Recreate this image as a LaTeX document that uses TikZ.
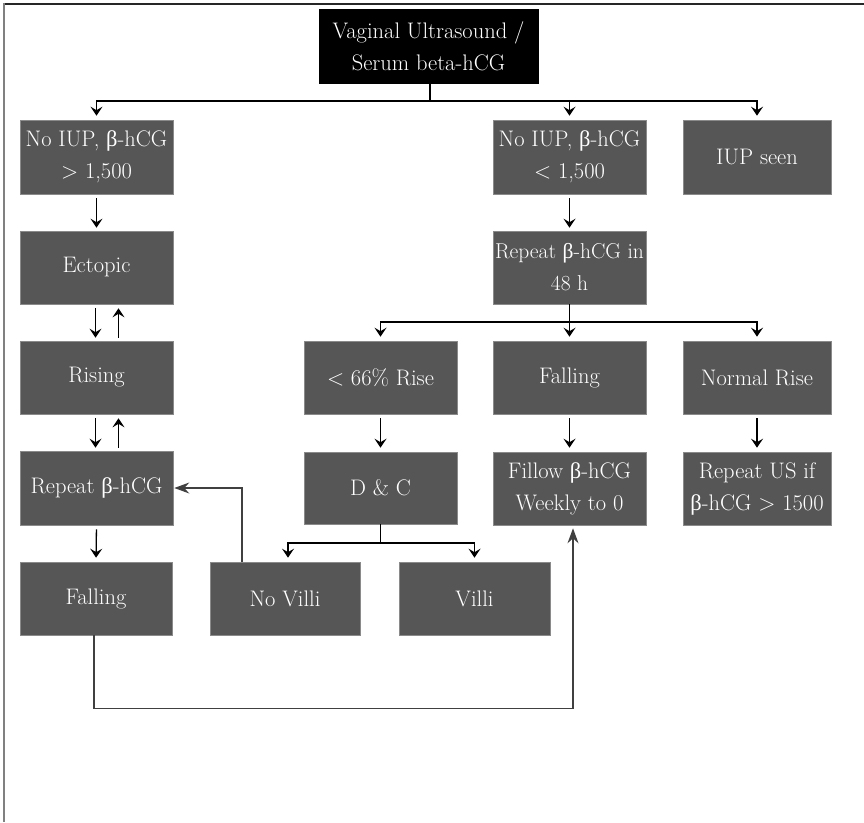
\documentclass[tikz,border=0pt]{standalone}
\usepackage{fontspec}
\newfontfamily\grkfont{Liberation Serif}
\usetikzlibrary{arrows.meta}
\definecolor{boxgray}{HTML}{565656}
\definecolor{boxedge}{HTML}{8A8A8A}
\newcommand{\bt}{{\grkfont β}}
\begin{document}
\begin{tikzpicture}[x=1pt,y=-1pt,
  box/.style={fill=boxgray, draw=boxedge, line width=0.6pt, text=white, align=center,
    inner sep=0pt, minimum width=153pt, minimum height=73pt,
    font=\fontsize{22.5}{32}\selectfont},
  arr/.style={line width=1.3pt, -{Stealth[length=9pt,width=12pt,inset=3.5pt]}},
  link/.style={line width=1.3pt},
  loopline/.style={draw=black!75, line width=1.1pt, -{Stealth[length=15pt,width=11pt,inset=5pt]}}
]
\useasboundingbox (0,0) rectangle (864,822);
% frame
\draw[line width=2pt, black!85] (3,4) -- (864,4);
\draw[line width=2.5pt, gray] (4,3) -- (4,822);

% nodes
\node[box, fill=black, draw=black, minimum width=219pt, minimum height=74pt] (top) at (428.5,46) {Vaginal Ultrasound /\\Serum beta-hCG};
\node[box, minimum height=74pt] (a) at (96.5,157) {No IUP, \bt-hCG\\> 1,500};
\node[box, minimum height=74pt] (b) at (569.5,157) {No IUP, \bt-hCG\\< 1,500};
\node[box, minimum width=148pt, minimum height=74pt] (c) at (757,157) {IUP seen};
\node[box] (ect) at (96.5,267.5) {Ectopic};
\node[box, font=\fontsize{21.5}{32}\selectfont] (r48) at (569.5,267.5) {Repeat \bt-hCG in\\48 h};
\node[box] (rising) at (96.5,377.5) {Rising};
\node[box] (rise66) at (380.5,377.5) {< 66\% Rise};
\node[box] (fallr) at (569.5,377.5) {Falling};
\node[box, minimum width=148pt] (normal) at (757,377.5) {Normal Rise};
\node[box, minimum height=74pt] (repb) at (96.5,488) {Repeat \bt-hCG};
\node[box, minimum height=72pt] (dc) at (380.5,488) {D \& C};
\node[box] (fillow) at (569.5,488.5) {Fillow \bt-hCG\\Weekly to 0};
\node[box, minimum width=148pt] (repus) at (757,488.5) {Repeat US if\\\bt-hCG > 1500};
\node[box, minimum width=152pt] (fall) at (96,598.5) {Falling};
\node[box, minimum width=150pt] (novilli) at (285,598.5) {No Villi};
\node[box, minimum width=151pt] (villi) at (474.5,598.5) {Villi};

% top bus
\coordinate (bus1) at (430,101);
\draw[link] (top.south -| bus1) -- (bus1);
\draw[arr, shorten >=4pt] (bus1) -| (a.north);
\draw[arr, shorten >=4pt] (bus1) -| (b.north);
\draw[arr, shorten >=4pt] (bus1) -| (c.north);

% left column
\draw[arr, shorten <=4pt, shorten >=3pt] (a.south) -- (ect.north);
\draw[arr, shorten <=4pt, shorten >=3pt] ([xshift=-1pt]ect.south) -- ([xshift=-1pt]rising.north);
\draw[arr, shorten <=3pt, shorten >=4pt] ([xshift=22pt]rising.north) -- ([xshift=22pt]ect.south);
\draw[arr, shorten <=4pt, shorten >=3pt] ([xshift=-1pt]rising.south) -- ([xshift=-1pt]repb.north);
\draw[arr, shorten <=3pt, shorten >=4pt] ([xshift=22pt]repb.north) -- ([xshift=22pt]rising.south);
\draw[arr, shorten <=4pt, shorten >=4pt] (repb.south) -- (fall.north);

% right column
\draw[arr, shorten <=4pt, shorten >=3pt] (b.south) -- (r48.north);
\coordinate (bus2) at (569.5,322);
\draw[link] (r48.south) -- (bus2);
\draw[arr, shorten >=4pt] (bus2) -| (rise66.north);
\draw[arr, shorten >=4pt] (bus2) -| (fallr.north);
\draw[arr, shorten >=4pt] (bus2) -| (normal.north);
\draw[arr, shorten <=4pt, shorten >=4pt] (rise66.south) -- (dc.north);
\draw[arr, shorten <=4pt, shorten >=4pt] (fallr.south) -- (fillow.north);
\draw[arr, shorten <=4pt, shorten >=4pt] (normal.south) -- (repus.north);

% D&C bus
\coordinate (bus3) at (380.5,543);
\draw[link] (dc.south) -- (bus3);
\draw[arr, shorten >=4pt] (bus3) -| ([xshift=3pt]novilli.north);
\draw[arr, shorten >=4pt] (bus3) -| (villi.north);

% loops
\draw[loopline, shorten >=1pt] ([xshift=-43pt]novilli.north) |- (repb.east);
\draw[loopline, shorten >=3pt] ([xshift=-2pt]fall.south) -- ++(0,73) -| ([xshift=3.5pt]fillow.south);
\end{tikzpicture}
\end{document}
